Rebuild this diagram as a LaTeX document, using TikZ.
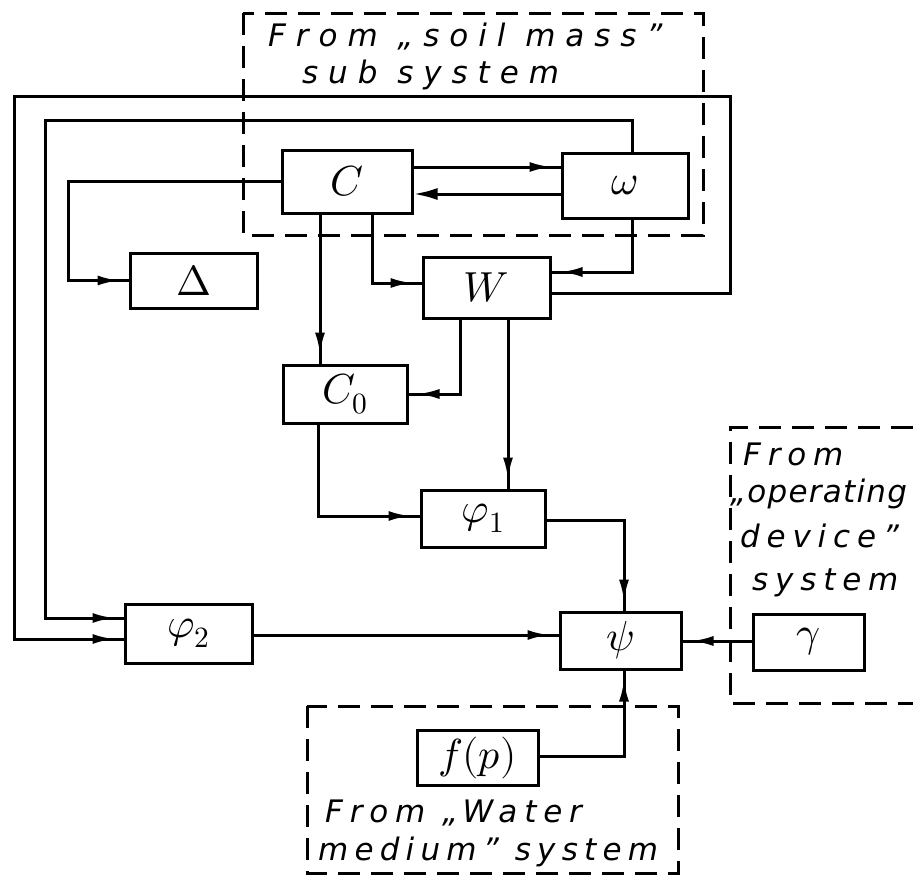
\documentclass[tikz,border=0pt]{standalone}
\usepackage{fontspec}
\usepackage{unicode-math}
\setmathfont{Latin Modern Math}
\newfontfamily\hand[LetterSpace=22]{DejaVu Sans}
\usetikzlibrary{arrows.meta,decorations.markings}
\tikzset{
  blk/.style={draw, line width=3pt, inner sep=0pt, font=\fontsize{42}{46}\selectfont},
  con/.style={line width=3pt},
  arr/.style={postaction={decorate},
    decoration={markings, mark=at position -9pt with {\arrow{Latex[length=22pt,width=10pt]}}}},
  dsh/.style={line width=3pt, dash pattern=on 22pt off 11pt},
  txt/.style={inner sep=0pt, anchor=base west, font=\hand\itshape\fontsize{31}{36}\selectfont},
}
\begin{document}
\begin{tikzpicture}[x=1pt,y=-1pt]
\useasboundingbox (0,0) rectangle (913,878);
% blocks
\node[blk,minimum width=130pt,minimum height=63pt] (C) at (347,181.5) {$C$};
\node[blk,minimum width=126pt,minimum height=65pt] (omega) at (625,185.5) {$\omega$};
\node[blk,minimum width=127pt,minimum height=55pt] (Delta) at (193.5,280.5) {$\Delta$};
\node[blk,minimum width=127pt,minimum height=61pt] (W) at (486.5,287.5) {$W$};
\node[blk,minimum width=124pt,minimum height=58pt] (C0) at (345,394) {$C_0$};
\node[blk,minimum width=124pt,minimum height=57pt] (phi1) at (483,518.5) {$\varphi_1$};
\node[blk,minimum width=127pt,minimum height=59pt] (phi2) at (188.5,633.5) {$\varphi_2$};
\node[blk,minimum width=121pt,minimum height=57pt] (psi) at (620.5,640.5) {$\psi$};
\node[blk,minimum width=111pt,minimum height=56pt] (gamma) at (808.5,642) {$\gamma$};
\node[blk,minimum width=121pt,minimum height=55pt] (fp) at (477.5,757.5) {$f(p)$};
% dashed subsystem frames
\draw[dsh] (243,13) rectangle (703,235);
\draw[dsh] (913,427) -- (730,427) -- (730,703) -- (913,703);
\draw[dsh] (307,706) rectangle (678,873);
% texts
\node[txt,font=\hand\itshape\addfontfeature{LetterSpace=32}\fontsize{31}{36}\selectfont] (s1) at (268,46) {From „soil mass”};
\node[txt,font=\hand\itshape\addfontfeature{LetterSpace=32}\fontsize{31}{36}\selectfont] (s2) at (302,83) {sub system};
\node[txt] (o1) at (743,465) {From};
\node[txt,font=\hand\itshape\addfontfeature{LetterSpace=4}\fontsize{31}{36}\selectfont] (o2) at (730,502) {„operating};
\node[txt] (o3) at (740,547) {device”};
\node[txt] (o4) at (752,590) {system};
\node[txt] (w1) at (325,822) {From „Water};
\node[txt,font=\hand\itshape\addfontfeature{LetterSpace=20}\fontsize{31}{36}\selectfont] (w2t) at (318,860) {medium” system};
% connectors
\draw[con,arr] ([yshift=14.5pt]C.east) -- ([yshift=18.5pt]omega.west);
\draw[con,-{Latex[length=24pt,width=12pt]}] ([yshift=-8.5pt]omega.west) -- ([yshift=-12.5pt]C.east);
\draw[con,arr] ([yshift=0.5pt]C.west) -| ([xshift=-60pt]Delta.west) -- (Delta.west);
\coordinate (c1) at ([xshift=-27pt]C.south);
\draw[con,arr] (c1) -- (c1 |- C0.north);
\draw[con,arr] ([xshift=25pt]C.south) |- ([yshift=4.5pt]W.west);
\draw[con,arr] ([xshift=7pt]omega.south) |- ([yshift=15.5pt]W.east);
\draw[con,arr] ([xshift=-26.5pt]W.south) |- (C0.east);
\coordinate (w2) at ([xshift=21.5pt]W.south);
\draw[con,arr] (w2) -- (w2 |- phi1.north);
\draw[con,arr] ([xshift=-27pt]C0.south) |- ([yshift=2.5pt]phi1.west);
\draw[con,arr] ([yshift=-1.5pt]phi1.east) -| ([xshift=3.5pt]psi.north);
\draw[con,arr] ([yshift=-1.5pt]phi2.east) -- ([yshift=5.5pt]psi.west);
\draw[con,arr] ([yshift=1pt]gamma.west) -- ([yshift=-0.5pt]psi.east);
\draw[con,arr] ([yshift=1.5pt]fp.east) -| ([xshift=3.5pt]psi.south);
\draw[con,arr] ([yshift=-5.5pt]W.east) -| (730,96) -| (14,639) -- ([yshift=-5.5pt]phi2.west);
\draw[con,arr] ([xshift=7pt]omega.north) |- (45,120) |- ([yshift=15.5pt]phi2.west);
\end{tikzpicture}
\end{document}
